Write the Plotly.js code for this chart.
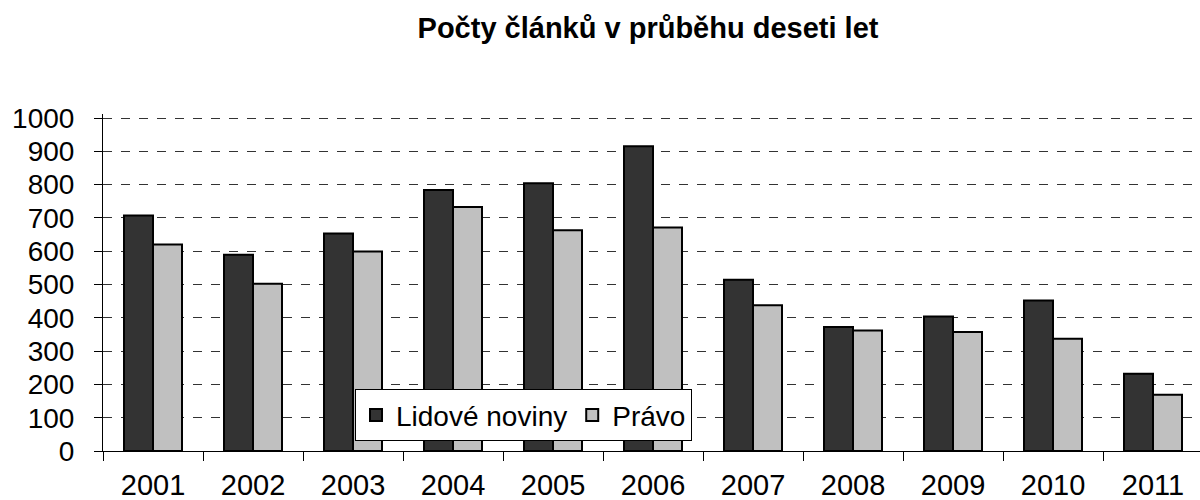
<!DOCTYPE html>
<html>
<head>
<meta charset="utf-8">
<script src="https://cdn.plot.ly/plotly-3.0.1.min.js"></script>
<style>html,body{margin:0;padding:0;background:#fff;}#chart{width:1200px;height:500px;}</style>
</head>
<body>
<div id="chart"></div>
<script>
const years = ['2001','2002','2003','2004','2005','2006','2007','2008','2009','2010','2011'];
const lidoveNoviny = [707, 589, 653, 784, 804, 915, 514, 372, 404, 452, 232];
const pravo = [620, 502, 599, 733, 663, 671, 438, 362, 357, 337, 169];
const yTicks = [0,100,200,300,400,500,600,700,800,900,1000];

const font = 'Liberation Sans, Arial, sans-serif';

const traces = [
  {type:'bar', name:'Lidové noviny', x:years, y:lidoveNoviny,
   marker:{color:'#333333', line:{color:'#000', width:2}}},
  {type:'bar', name:'Právo', x:years, y:pravo,
   marker:{color:'#c0c0c0', line:{color:'#000', width:2}}}
];

const layout = {
  width:1200, height:500,
  margin:{l:103, r:0, t:114, b:49},
  paper_bgcolor:'#fff', plot_bgcolor:'#fff',
  font:{family:font, color:'#000', size:28},
  title:{text:'<b>Počty článků v průběhu deseti let</b>', font:{family:font, size:29, color:'#000'},
         x:0.54, xref:'container', xanchor:'center', y:0.944, yref:'container', yanchor:'middle'},
  barmode:'group', bargap:0.42, bargroupgap:0,
  showlegend:true,
  legend:{orientation:'h', x:0.2297, y:0.183, xanchor:'left', yanchor:'top',
          bgcolor:'#fff', bordercolor:'#000', borderwidth:1, itemwidth:30,
          font:{family:font, size:28, color:'#000'}, traceorder:'normal'},
  xaxis:{type:'category', range:[-0.5, 10.47], showline:true, linecolor:'#000', linewidth:1,
         ticks:'outside', tickson:'boundaries', ticklen:9, tickcolor:'#000',
         showgrid:false, zeroline:false, tickfont:{family:font, size:29, color:'#000'},
         ticklabelstandoff:8},
  yaxis:{range:[0,1012], tickvals:yTicks, showline:true, linecolor:'#000', linewidth:1,
         ticks:'outside', ticklen:8, tickcolor:'#000',
         showgrid:true, gridcolor:'#333', griddash:'dash', gridwidth:1, zeroline:false,
         tickfont:{family:font, size:28, color:'#000'}, ticklabelstandoff:14}
};

Plotly.newPlot('chart', traces, layout, {displayModeBar:false, staticPlot:true});
</script>
</body>
</html>
